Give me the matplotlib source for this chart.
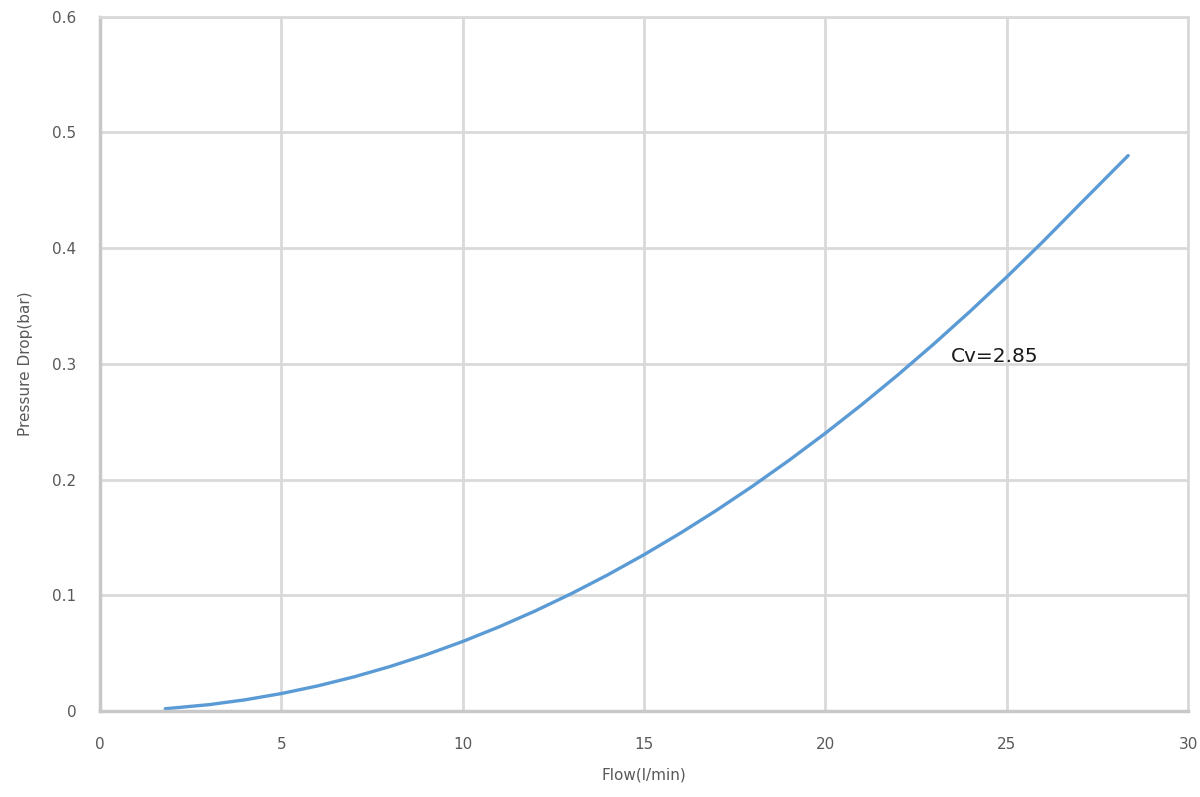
import matplotlib
matplotlib.use('agg')
import matplotlib.pyplot as plt

# Flow (l/min) vs pressure drop (bar)
flow = [1.8, 3, 4, 5, 6, 7, 8, 9, 10, 11, 12, 13, 14, 15, 16, 17, 18, 19,
        20, 21, 22, 23, 24, 25, 26, 27, 28.35]
dp = [0.0019, 0.0054, 0.0096, 0.0150, 0.0216, 0.0294, 0.0384, 0.0486, 0.0600,
      0.0726, 0.0864, 0.1014, 0.1176, 0.1350, 0.1536, 0.1734, 0.1944, 0.2166,
      0.2400, 0.2646, 0.2904, 0.3174, 0.3456, 0.3750, 0.4056, 0.4374, 0.4800]

x_ticks = [0, 5, 10, 15, 20, 25, 30]
y_ticks = [0, 0.1, 0.2, 0.3, 0.4, 0.5, 0.6]
y_ticklabels = ['0', '0.1', '0.2', '0.3', '0.4', '0.5', '0.6']

label_text = 'Cv=2.85'
label_pos = (23.45, 0.306)

grid_col = '#d9d9d9'
tick_col = '#595959'

fig = plt.figure(figsize=(12, 7.97), dpi=100)
ax = fig.add_axes([0.0833, 0.108, 0.9067, 0.871])

ax.plot(flow, dp, color='#5b9bd5', linewidth=2.4, solid_capstyle='round')

ax.set_xlim(0, 30)
ax.set_ylim(0, 0.6)
ax.set_xticks(x_ticks)
ax.set_yticks(y_ticks)
ax.set_yticklabels(y_ticklabels)

ax.grid(True, color=grid_col, linewidth=2)
ax.set_axisbelow(True)
for s in ['top', 'right']:
    ax.spines[s].set_color(grid_col)
    ax.spines[s].set_linewidth(2)
for s in ['left', 'bottom']:
    ax.spines[s].set_color('#c8c8c8')
    ax.spines[s].set_linewidth(2.5)

ax.tick_params(length=0, labelsize=11, labelcolor=tick_col)
ax.tick_params(axis='x', pad=19)
ax.tick_params(axis='y', pad=17)

ax.set_xlabel('Flow(l/min)', fontsize=11, color=tick_col, labelpad=11)
ax.set_ylabel('Pressure Drop(bar)', fontsize=11, color=tick_col, labelpad=14)

ax.text(label_pos[0], label_pos[1], label_text, fontsize=14.5, color='#1a1a1a',
        va='center', ha='left')

fig.savefig('out.png', dpi=100)
